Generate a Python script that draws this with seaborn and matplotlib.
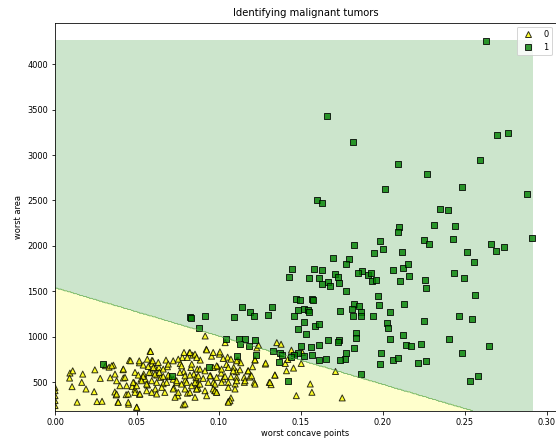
import numpy as np
import pandas as pd
import matplotlib
matplotlib.use("Agg")
import matplotlib.pyplot as plt
import seaborn as sns

# ---- data ----
benign_x = [0.0, 0.0, 0.0, 0.0, 0.0, 0.0091, 0.0108, 0.0089, 0.0104, 0.0135, 0.0163, 0.0169, 0.0189,
            0.0243, 0.0239, 0.0256, 0.0276, 0.0287, 0.0308, 0.033, 0.0356, 0.0337, 0.0365, 0.0373,
            0.0384, 0.0415, 0.0417, 0.0434, 0.0449, 0.0454, 0.0482, 0.0471, 0.0488, 0.0515, 0.0499,
            0.0515, 0.0541, 0.0525, 0.0551, 0.0564, 0.058, 0.0591, 0.0591, 0.0586, 0.0612, 0.0621,
            0.0612, 0.0634, 0.0645, 0.066, 0.0677, 0.0686, 0.0699, 0.0721, 0.0725, 0.0743, 0.0749,
            0.0764, 0.0777, 0.0786, 0.0795, 0.0808, 0.0782, 0.0829, 0.0819, 0.084, 0.0847, 0.0862,
            0.0873, 0.0886, 0.0916, 0.0923, 0.0949, 0.0955, 0.0966, 0.0975, 0.0986, 0.0992, 0.1003,
            0.1014, 0.1025, 0.1038, 0.1053, 0.1046, 0.1057, 0.1073, 0.1073, 0.109, 0.1099, 0.1107,
            0.1116, 0.1133, 0.1155, 0.1177, 0.1188, 0.1205, 0.122, 0.1216, 0.1231, 0.1242, 0.1283,
            0.1307, 0.1318, 0.1342, 0.1353, 0.1379, 0.1405, 0.1412, 0.142, 0.1442, 0.1455, 0.1472,
            0.1502, 0.1509, 0.1557, 0.1567, 0.1711, 0.1752,
            0.0583, 0.0461, 0.0514, 0.0563, 0.0596, 0.063, 0.0346, 0.0417, 0.0538, 0.0569, 0.06,
            0.066, 0.0691, 0.0721, 0.0752, 0.0787, 0.0823, 0.0854, 0.0807, 0.0772, 0.0834, 0.0868,
            0.0366, 0.0427, 0.0488, 0.0508, 0.0538, 0.0575, 0.061, 0.0636, 0.066, 0.0691, 0.0762,
            0.0793, 0.0823, 0.086, 0.0376, 0.0396, 0.0437, 0.0477, 0.0498, 0.0528, 0.0559, 0.059,
            0.062, 0.0651, 0.0681, 0.0742, 0.0772, 0.0803, 0.0833, 0.0868, 0.0376, 0.0447, 0.0488,
            0.0518, 0.0559, 0.059, 0.062, 0.067, 0.0721, 0.0752, 0.0793, 0.0823, 0.0864, 0.0386,
            0.0447, 0.0498, 0.0732, 0.0793, 0.0854,
            0.0925, 0.0965, 0.1006, 0.0864, 0.1026, 0.1073, 0.1108, 0.122, 0.1285, 0.0884, 0.0915,
            0.0965, 0.0986, 0.1016, 0.1057, 0.1087, 0.1128, 0.1179, 0.1199, 0.1341, 0.0874, 0.0904,
            0.0945, 0.0986, 0.1037, 0.1108, 0.1154, 0.0854, 0.0884, 0.0935, 0.0976, 0.1016, 0.1057,
            0.1108, 0.1159, 0.122, 0.1311, 0.0864, 0.0915, 0.0965, 0.1057, 0.1098, 0.0976, 0.0925,
            0.0986, 0.1067, 0.1057]
benign_y = [445, 409, 354, 300, 245, 602, 627, 547, 453, 282, 500, 591, 427,
            638, 398, 289, 544, 292, 683, 667, 689, 551, 394, 362,
            282, 639, 548, 365, 260, 741, 496, 456, 424, 369, 227,
            715, 591, 536, 536, 471, 842, 741, 704, 606, 657, 580,
            427, 664, 555, 485, 745, 672, 563, 534, 439, 497, 352,
            708, 774, 617, 526, 381, 253, 664, 825, 799, 591, 526,
            434, 745, 1010, 864, 573, 788, 500, 409, 391, 672, 810,
            602, 536, 937, 777, 697, 289, 329, 562, 664, 482, 617,
            745, 716, 500, 627, 558, 672, 745, 500, 879, 908, 701,
            500, 475, 580, 937, 919, 708, 628, 752, 854, 657, 354,
            708, 828, 482, 391, 620, 329,
            840, 737, 737, 755, 737, 719, 682, 646, 690, 675, 664,
            646, 701, 737, 755, 829, 829, 810, 774, 682, 701, 646,
            591, 555, 610, 580, 566, 610, 591, 610, 566, 580, 610,
            572, 580, 555, 518, 463, 463, 500, 463, 518, 481, 518,
            500, 445, 500, 518, 481, 500, 463, 481, 372, 372, 390,
            372, 408, 390, 372, 390, 427, 390, 427, 390, 427, 281,
            281, 226, 336, 262, 336,
            857, 829, 835, 774, 763, 755, 737, 748, 712, 646, 627,
            664, 682, 646, 664, 627, 638, 627, 572, 580, 572, 544,
            572, 555, 566, 555, 555, 500, 481, 500, 481, 500, 500,
            518, 518, 481, 500, 427, 408, 427, 445, 427, 408, 353,
            390, 298, 281]

malig_x = [0.263, 0.166, 0.182, 0.2095, 0.227, 0.201, 0.248, 0.2594, 0.2697, 0.2762, 0.288, 0.160,
           0.1628, 0.2349, 0.2395, 0.210, 0.2095, 0.2312, 0.2438, 0.2907,
           0.1824, 0.1982, 0.2002, 0.1945, 0.2115, 0.2251, 0.2284, 0.2425, 0.2512, 0.2662, 0.269,
           0.274, 0.1698, 0.1791, 0.1774, 0.1444, 0.1578, 0.1630, 0.1427, 0.155, 0.1613, 0.1709,
           0.1724, 0.1665, 0.1628, 0.1676, 0.1735, 0.1871, 0.1908, 0.1926, 0.1932, 0.1958, 0.2063,
           0.2121, 0.2154, 0.2104, 0.2158, 0.2256, 0.2262, 0.2434, 0.2495, 0.2553, 0.2559, 0.185,
           0.1774, 0.1969, 0.1975, 0.2126, 0.2464, 0.2545, 0.2251,
           0.1468, 0.1494, 0.1565, 0.1574, 0.1481, 0.1455, 0.1516, 0.1544, 0.1548, 0.1519, 0.1585,
           0.1611, 0.1533, 0.1481, 0.1498, 0.1563, 0.1567, 0.1481, 0.1459, 0.1437, 0.1519, 0.1612,
           0.1668, 0.174, 0.1826, 0.1855, 0.1813, 0.1865, 0.1817, 0.1865, 0.194, 0.2023, 0.2034,
           0.2041, 0.1837, 0.1833, 0.173, 0.1726, 0.1824, 0.1774, 0.1767, 0.1741, 0.1656, 0.1608,
           0.1991, 0.1984, 0.1867, 0.2041, 0.2121, 0.214, 0.2171, 0.2234, 0.2063, 0.2095, 0.2214,
           0.2262, 0.2401, 0.2482, 0.2647, 0.2531, 0.2581,
           0.0821, 0.0832, 0.0918, 0.0877, 0.1094, 0.1142, 0.1188, 0.1216, 0.1298, 0.1324, 0.1046,
           0.1122, 0.1159, 0.1222, 0.1129, 0.1183, 0.1111, 0.1224, 0.1329, 0.1372, 0.1386, 0.1364,
           0.1422, 0.0291, 0.0716, 0.0938]
malig_y = [4254, 3432, 3140, 2906, 2790, 2622, 2644, 2947, 3220, 3238, 2568, 2506,
           2476, 2403, 2396, 2211, 2149, 2233, 2222, 2088,
           2007, 2051, 1971, 1920, 1938, 2066, 2018, 2080, 1931, 2018, 1942,
           1993, 1865, 1858, 1800, 1745, 1745, 1738, 1658, 1647, 1647, 1691,
           1658, 1600, 1581, 1556, 1592, 1727, 1683, 1702, 1610, 1629, 1738,
           1763, 1803, 1611, 1665, 1629, 1538, 1705, 1647, 1822, 1461, 1702,
           1501, 1447, 1356, 1367, 1228, 1192, 1174,
           1421, 1403, 1421, 1410, 1294, 1232, 1308, 1297, 1276, 1166, 1119,
           1137, 1032, 1090, 901, 890, 799, 825, 799, 774, 788, 916,
           963, 1286, 1359, 1345, 1305, 1272, 1228, 1228, 1235, 1155, 1101,
           1272, 1046, 991, 966, 944, 879, 820, 762, 748, 755, 744,
           825, 701, 592, 974, 1018, 916, 901, 923, 748, 766, 708,
           737, 974, 825, 897, 515, 573,
           1217, 1206, 1228, 1093, 1217, 1326, 1272, 1235, 1239, 1326, 978,
           974, 981, 963, 920, 901, 788, 806, 843, 825, 806, 719,
           515, 704, 569, 664]

# linear decision boundary: worst area = b0 + b1 * concave points
boundary_intercept = 1541.0
boundary_slope = -5316.0

df = pd.DataFrame({
    "worst concave points": benign_x + malig_x,
    "worst area": benign_y + malig_y,
    "label": [0] * len(benign_x) + [1] * len(malig_x),
})

plt.rcParams["font.size"] = 8.3

W, H, DPI = 556, 438, 72
fig = plt.figure(figsize=(W / DPI, H / DPI), dpi=DPI)
ax = fig.add_axes([55 / W, (H - 411) / H, (556 - 55) / W, (411 - 22.5) / H])

# decision regions over the data range
x_min, x_max = 0.0, 0.291
y_min, y_max = 185.2, max(df["worst area"])
gx, gy = np.meshgrid(np.linspace(x_min, x_max, 400), np.linspace(y_min, y_max, 400))
z = (gy > boundary_intercept + boundary_slope * gx).astype(int)
ax.contourf(gx, gy, z, levels=[-0.5, 0.5, 1.5], colors=["yellow", "green"], alpha=0.2)
ax.contour(gx, gy, z, levels=[0.5], colors=["#5aa85a"], linewidths=0.8, alpha=0.8)

sns.scatterplot(data=df, x="worst concave points", y="worst area", hue="label", style="label",
                markers={0: "^", 1: "s"}, palette={0: "yellow", 1: "green"},
                edgecolor="black", linewidth=1, s=36, alpha=0.8, ax=ax)

ax.set_xlim(0, 0.3056)
ax.set_ylim(185.2, 4457)
ax.set_xticks([0.0, 0.05, 0.10, 0.15, 0.20, 0.25, 0.30])
ax.set_xticklabels(["0.00", "0.05", "0.10", "0.15", "0.20", "0.25", "0.30"])
ax.set_yticks([500, 1000, 1500, 2000, 2500, 3000, 3500, 4000])
ax.set_title("Identifying malignant tumors", fontsize=10)
ax.set_xlabel("worst concave points", labelpad=2)
ax.set_ylabel("worst area")

handles, labels = ax.get_legend_handles_labels()
ax.legend(handles=handles[-2:], labels=["0", "1"], loc="upper right", title=None)

fig.savefig("out.png", dpi=DPI)
